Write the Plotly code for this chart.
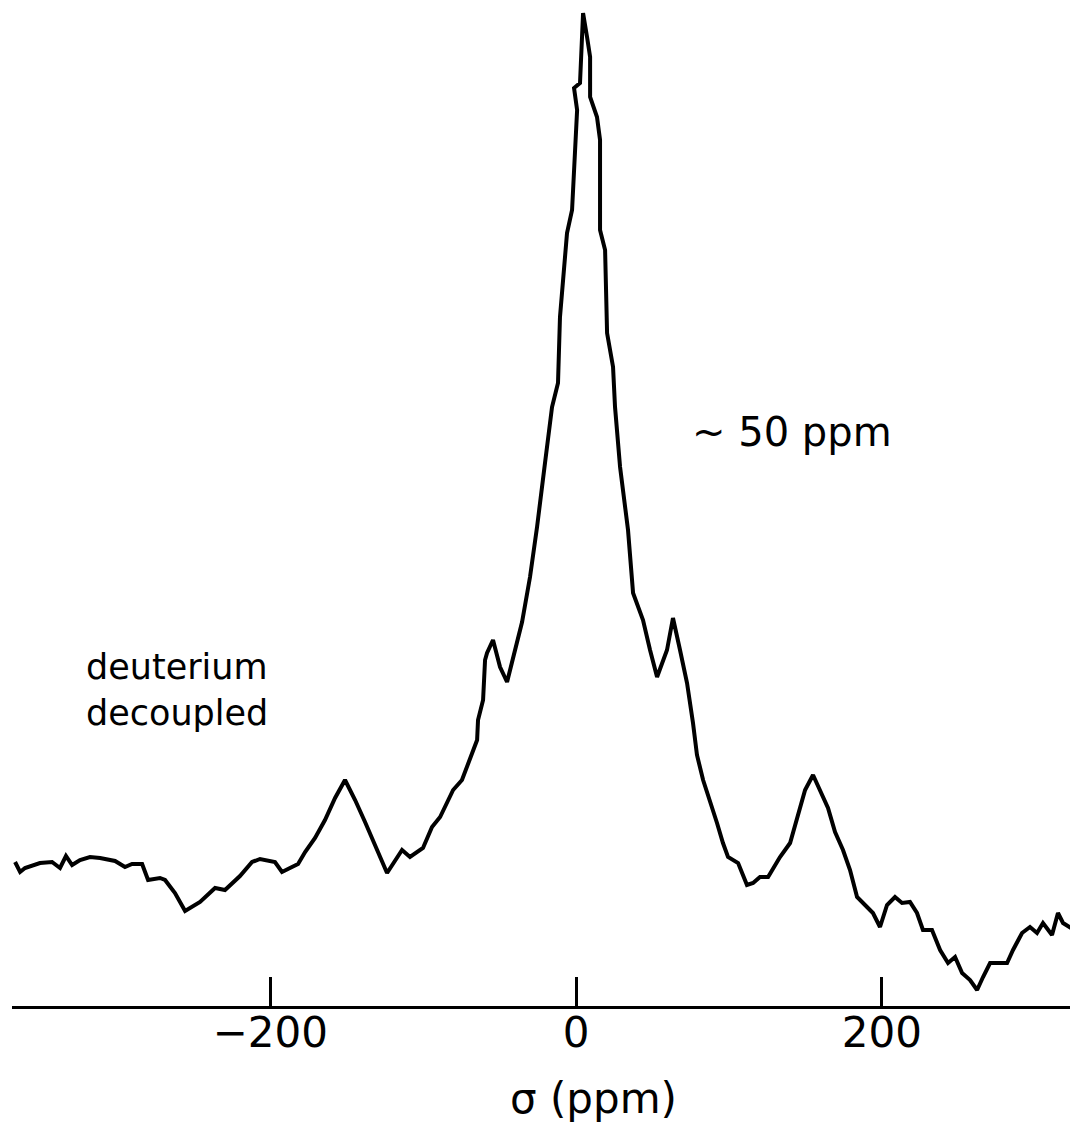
import plotly.graph_objects as go

# Chemical shift (ppm) and relative intensity (a.u.)
shift_ppm = [
    -366.9, -363.6, -360.4, -350.6, -342.7, -337.5, -333.6, -329.6, -324.4, -317.9,
    -311.3, -301.5, -295.0, -290.4, -283.8, -279.9, -272.1, -268.8, -262.3, -255.7,
    -245.9, -236.1, -229.6, -219.8, -211.9, -206.7, -196.9, -192.3, -187.1, -181.8,
    -177.2, -170.7, -164.2, -157.6, -151.1, -144.5, -138.0, -131.5, -123.6, -113.8,
    -108.6, -100.1, -94.2, -88.9, -80.4, -74.6, -69.3, -64.7, -64.1, -60.8,
    -59.5, -58.2, -54.3, -49.7, -45.1, -39.9, -35.3, -30.1, -25.5, -20.3,
    -15.7, -11.8, -10.5, -5.9, -2.6, 0.7, -1.3, 2.6, 3.9, 4.6,
    7.2, 9.2, 9.2, 13.7, 15.7, 15.7, 15.7, 19.0, 20.3, 20.3,
    24.2, 25.5, 28.8, 34.0, 37.3, 43.8, 48.4, 53.0, 59.5, 63.4,
    68.0, 72.6, 76.5, 79.1, 83.1, 87.6, 92.2, 96.1, 99.4, 106.0,
    111.8, 115.8, 120.3, 125.6, 133.4, 140.0, 145.2, 149.8, 155.0, 159.6,
    164.8, 169.4, 174.6, 179.2, 183.8, 190.3, 194.2, 198.8, 203.4, 208.6,
    213.2, 218.4, 223.0, 226.9, 232.8, 238.1, 243.3, 247.9, 252.5, 257.7,
    262.3, 266.2, 270.8, 277.3, 281.9, 285.8, 291.7, 296.9, 301.5, 305.4,
    311.3, 315.2, 318.5, 327.7,
]
intensity = [
    14.3, 13.3, 13.7, 14.2, 14.3, 13.7, 14.9, 14.0, 14.5, 14.8,
    14.7, 14.4, 13.8, 14.1, 14.1, 12.5, 12.7, 12.5, 11.2, 9.4,
    10.3, 11.7, 11.5, 12.9, 14.3, 14.6, 14.3, 13.3, 13.7, 14.1,
    15.3, 16.7, 18.5, 20.7, 22.5, 20.5, 18.3, 16.0, 13.2, 15.5,
    14.8, 15.7, 17.8, 18.8, 21.5, 22.5, 24.8, 26.5, 28.5, 30.5,
    34.5, 35.2, 36.5, 33.8, 32.3, 35.5, 38.3, 42.8, 47.8, 54.2,
    59.8, 62.2, 68.8, 77.2, 79.5, 89.5, 91.7, 92.2, 97.2, 99.2,
    96.8, 94.8, 90.8, 88.8, 86.5, 79.5, 77.5, 75.5, 68.8, 67.2,
    63.8, 59.8, 53.8, 47.5, 41.2, 38.5, 35.5, 32.8, 35.5, 38.7,
    35.5, 32.2, 28.2, 25.0, 22.5, 20.5, 18.2, 16.2, 14.8, 14.2,
    12.0, 12.2, 12.8, 12.8, 14.8, 16.2, 19.2, 21.5, 23.0, 21.5,
    19.7, 17.3, 15.5, 13.5, 10.8, 9.8, 9.2, 7.8, 10.0, 10.8,
    10.2, 10.3, 9.2, 7.5, 7.5, 5.5, 4.2, 4.8, 3.2, 2.5,
    1.5, 2.8, 4.2, 4.2, 4.2, 5.5, 7.2, 7.8, 7.2, 8.2,
    7.0, 9.2, 8.2, 7.3,
]

tick_values = [-200, 0, 200]
tick_labels = ["−200", "0", "200"]

FONT = "DejaVu Sans"

# page has an 8px body margin; figure placed so the axis lands where the reference has it
W, H = 1070, 1119
ML, MR, MT, MB = 4, 0, 0, 121
PW, PH = W - ML - MR, H - MT - MB


def px_to_paper(px, py):
    """window pixel -> paper coordinates (accounting for 8px page margin)"""
    return (px - 8 - ML) / PW, 1 - (py - 8 - MT) / PH


fig = go.Figure()
fig.add_trace(go.Scatter(
    x=shift_ppm, y=intensity, mode="lines",
    line=dict(color="black", width=4),
    hoverinfo="skip", showlegend=False,
))

fig.update_layout(
    width=W, height=H,
    margin=dict(l=ML, r=MR, t=MT, b=MB),
    paper_bgcolor="white", plot_bgcolor="white",
    font=dict(family=FONT, color="black"),
    xaxis=dict(
        range=[-368.9, 328.3],
        showgrid=False, zeroline=False,
        showline=True, linecolor="black", linewidth=3,
        ticks="inside", ticklen=29, tickwidth=3, tickcolor="black",
        tickvals=tick_values, ticktext=tick_labels,
        tickfont=dict(size=42, family=FONT),
        ticklabelstandoff=-12,
    ),
    yaxis=dict(
        range=[-0.1, 99.7], visible=False, showgrid=False, zeroline=False,
    ),
)

ax, ay = px_to_paper(792, 432)
fig.add_annotation(
    x=ax, y=ay, xref="paper", yref="paper",
    text="~ 50 ppm", showarrow=False,
    font=dict(size=40, family=FONT), xanchor="center", yanchor="middle",
)
ax, ay = px_to_paper(84, 690)
fig.add_annotation(
    x=ax, y=ay, xref="paper", yref="paper",
    text="deuterium<br>decoupled", showarrow=False, align="left",
    font=dict(size=35, family=FONT), xanchor="left", yanchor="middle",
)
ax, ay = px_to_paper(593, 1098)
fig.add_annotation(
    x=ax, y=ay, xref="paper", yref="paper",
    text="σ (ppm)", showarrow=False,
    font=dict(size=42, family=FONT), xanchor="center", yanchor="middle",
)

fig.write_html("out.html")
